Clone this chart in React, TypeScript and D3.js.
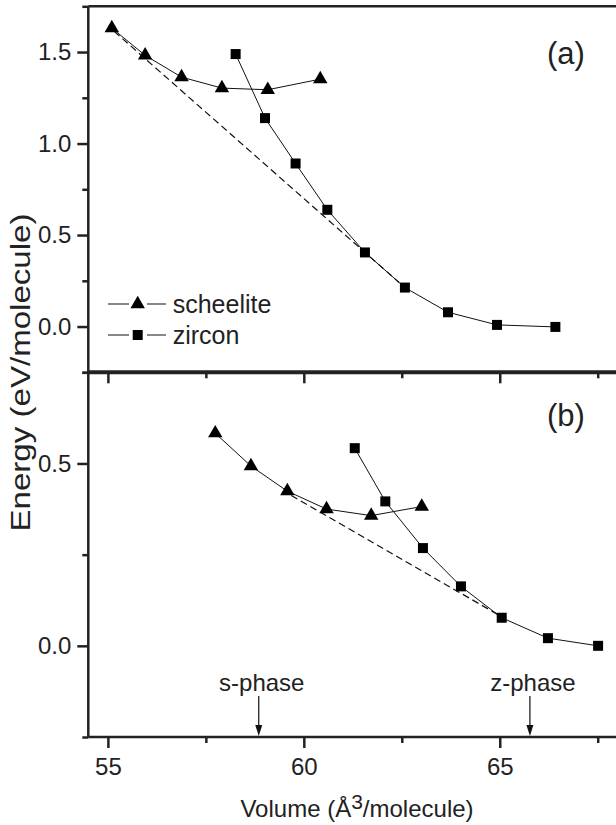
import React, { useEffect, useRef } from 'react';
import * as d3 from 'd3';

// volume ticks
const volMajor = [55, 60, 65];
const volMinor = [57.5, 62.5, 67.5];

// panel (a)
const aScheeliteVol = [55.1, 55.95, 56.88, 57.91, 59.08, 60.42];
const aScheeliteE = [1.631, 1.482, 1.363, 1.303, 1.294, 1.352];
const aZirconVol = [58.26, 59.01, 59.79, 60.6, 61.56, 62.58, 63.68, 64.93, 66.42];
const aZirconE = [1.489, 1.139, 0.891, 0.638, 0.405, 0.213, 0.078, 0.009, -0.002];
const aTangentVol = [55.16, 62.43];
const aTangentE = [1.613, 0.241];
const aMajor = [0, 0.5, 1.0, 1.5];
const aMinor = [-0.25, 0.25, 0.75, 1.25, 1.75];

// panel (b)
const bScheeliteVol = [57.74, 58.65, 59.58, 60.58, 61.72, 63.01];
const bScheeliteE = [0.583, 0.493, 0.424, 0.375, 0.357, 0.382];
const bZirconVol = [61.3, 62.08, 63.04, 64.01, 65.05, 66.23, 67.51];
const bZirconE = [0.542, 0.396, 0.268, 0.163, 0.077, 0.021, 0.0];
const bTangentVol = [59.68, 64.98];
const bTangentE = [0.412, 0.084];
const bMajor = [0, 0.5];
const bMinor = [-0.25, 0.25, 0.75];

const phaseLabels = ['s-phase', 'z-phase'];
const phaseVol = [58.85, 65.77];

const FONT = '"Liberation Sans", Arial, Helvetica, sans-serif';

const App = () => {
    const svgRef = useRef<SVGSVGElement>(null);

    useEffect(() => {
        const svg = d3.select(svgRef.current);
        svg.selectAll('*').remove();

        const x = d3.scaleLinear().domain([54.5, 68]).range([88.3, 617.3]);
        const yA = d3.scaleLinear().domain([-0.25, 1.75]).range([372.3, 6.3]);
        const yB = d3.scaleLinear().domain([-0.25, 0.75]).range([737, 372.3]);

        const tri = d3.symbol().type(d3.symbolTriangle).size(90);
        const sq = d3.symbol().type(d3.symbolSquare).size(100);

        const drawPanel = (y, sV, sE, zV, zE, tV, tE, major, minor) => {
            const g = svg.append('g');
            const line = d3.line<[number, number]>().x(d => x(d[0])).y(d => y(d[1]));

            // common tangent (dashed)
            g.append('path')
                .attr('d', line(d3.zip(tV, tE) as [number, number][]))
                .attr('fill', 'none').attr('stroke', '#111').attr('stroke-width', 1.2)
                .attr('stroke-dasharray', '7,4');

            g.append('path')
                .attr('d', line(d3.zip(sV, sE) as [number, number][]))
                .attr('fill', 'none').attr('stroke', '#111').attr('stroke-width', 1);
            g.append('path')
                .attr('d', line(d3.zip(zV, zE) as [number, number][]))
                .attr('fill', 'none').attr('stroke', '#111').attr('stroke-width', 1);

            g.selectAll('.tri').data(d3.zip(sV, sE)).join('path')
                .attr('d', tri()).attr('fill', '#000')
                .attr('transform', d => `translate(${x(d[0])},${y(d[1])})`);
            g.selectAll('.sq').data(d3.zip(zV, zE)).join('path')
                .attr('d', sq()).attr('fill', '#000')
                .attr('transform', d => `translate(${x(d[0])},${y(d[1])})`);

            // y axis ticks
            const yMaj = g.append('g').attr('transform', `translate(${x(54.5)},0)`)
                .call(d3.axisLeft(y).tickValues(major).tickSize(11).tickPadding(6).tickFormat(d3.format('.1f')));
            yMaj.attr('font-size', 24).attr('font-family', FONT);
            yMaj.select('.domain').remove();
            const yMin = g.append('g').attr('transform', `translate(${x(54.5)},0)`)
                .call(d3.axisLeft(y).tickValues(minor).tickSize(6).tickFormat(() => ''));
            yMin.select('.domain').remove();

            // x axis ticks at panel bottom
            const bottom = y.range()[0];
            const xMaj = g.append('g').attr('transform', `translate(0,${bottom})`)
                .call(d3.axisBottom(x).tickValues(volMajor).tickSize(11).tickPadding(10).tickFormat(d3.format('d')));
            xMaj.attr('font-size', 24).attr('font-family', FONT);
            xMaj.select('.domain').remove();
            const xMin = g.append('g').attr('transform', `translate(0,${bottom})`)
                .call(d3.axisBottom(x).tickValues(volMinor).tickSize(6).tickFormat(() => ''));
            xMin.select('.domain').remove();

            g.selectAll('.tick line').attr('stroke', '#222').attr('stroke-width', 2.5);
            g.selectAll('.tick text').attr('fill', '#222');
            return { xMaj };
        };

        drawPanel(yA, aScheeliteVol, aScheeliteE, aZirconVol, aZirconE, aTangentVol, aTangentE, aMajor, aMinor)
            .xMaj.selectAll('text').remove();
        drawPanel(yB, bScheeliteVol, bScheeliteE, bZirconVol, bZirconE, bTangentVol, bTangentE, bMajor, bMinor);

        // frame
        const frame = svg.append('g').attr('stroke', '#222');
        frame.append('line').attr('x1', x(54.5)).attr('x2', x(54.5)).attr('y1', yA(1.75)).attr('y2', yB(-0.25)).attr('stroke-width', 2.5);
        frame.append('line').attr('x1', x(54.5)).attr('x2', x(68)).attr('y1', yA(1.75)).attr('y2', yA(1.75)).attr('stroke-width', 2.5);
        frame.append('line').attr('x1', x(54.5)).attr('x2', x(68)).attr('y1', yA(-0.25)).attr('y2', yA(-0.25)).attr('stroke-width', 4);
        frame.append('line').attr('x1', x(54.5)).attr('x2', x(68)).attr('y1', yB(-0.25)).attr('y2', yB(-0.25)).attr('stroke-width', 2.5);

        // legend
        const leg = svg.append('g');
        [{ label: 'scheelite', sym: tri, cy: 304, base: 313 }, { label: 'zircon', sym: sq, cy: 335, base: 344 }].forEach(e => {
            leg.append('line').attr('x1', 108).attr('x2', 129).attr('y1', e.cy).attr('y2', e.cy).attr('stroke', '#111');
            leg.append('line').attr('x1', 147).attr('x2', 166).attr('y1', e.cy).attr('y2', e.cy).attr('stroke', '#111');
            leg.append('path').attr('d', e.sym()).attr('transform', `translate(137.7,${e.cy})`);
            leg.append('text').attr('x', 172.7).attr('y', e.base).text(e.label)
                .attr('font-size', 25).attr('font-family', FONT).attr('fill', '#222');
        });

        // panel labels
        svg.append('text').attr('x', 566).attr('y', 64).attr('text-anchor', 'middle')
            .attr('font-size', 31).attr('font-family', FONT).attr('fill', '#222').text('(a)');
        svg.append('text').attr('x', 566).attr('y', 426).attr('text-anchor', 'middle')
            .attr('font-size', 31).attr('font-family', FONT).attr('fill', '#222').text('(b)');

        // phase arrows
        phaseVol.forEach((v, i) => {
            const px = x(v);
            svg.append('text').attr('x', px + 3).attr('y', 690.5).attr('text-anchor', 'middle')
                .attr('font-size', 24).attr('font-family', FONT).attr('fill', '#222').text(phaseLabels[i]);
            svg.append('line').attr('x1', px).attr('x2', px).attr('y1', 696).attr('y2', 727)
                .attr('stroke', '#111').attr('stroke-width', 1.2);
            svg.append('path').attr('d', `M${px - 3.5},${725} L${px + 3.5},${725} L${px},${736} Z`).attr('fill', '#111');
        });

        // axis titles
        svg.append('text').attr('transform', `translate(30,372.5) rotate(-90)`).attr('text-anchor', 'middle')
            .attr('font-size', 28).attr('font-family', FONT).attr('fill', '#222')
            .attr('textLength', 318).attr('lengthAdjust', 'spacingAndGlyphs')
            .text('Energy (eV/molecule)');
        const xt = svg.append('text').attr('x', 357).attr('y', 817).attr('text-anchor', 'middle')
            .attr('font-size', 24).attr('font-family', FONT).attr('fill', '#222');
        xt.append('tspan').text('Volume (Å');
        xt.append('tspan').attr('font-size', 21).attr('dy', -8).text('3');
        xt.append('tspan').attr('dy', 8).text('/molecule)');
    }, []);

    return (
        <svg ref={svgRef} width={616} height={825}
            style={{ position: 'absolute', left: 0, top: 0, background: '#fff' }} />
    );
};

export default App;
